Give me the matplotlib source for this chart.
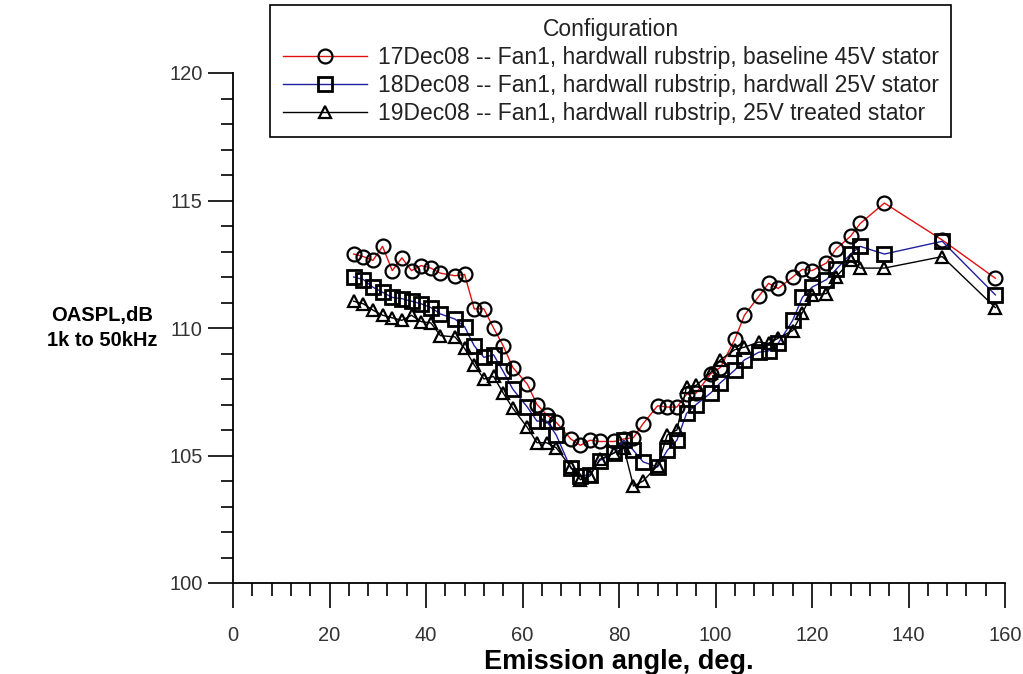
import matplotlib
matplotlib.use("Agg")
import matplotlib.pyplot as plt
from matplotlib.ticker import MultipleLocator

plt.rcParams['font.family'] = ['Liberation Sans', 'DejaVu Sans']

# emission angles (deg) shared by the three configurations
angles = [25, 27, 29, 31, 33, 35, 37, 39, 41, 43, 46, 48, 50, 52, 54, 56, 58,
          61, 63, 65, 67, 70, 72, 74, 76, 79, 81, 83, 85, 88, 90, 92,
          94, 96, 99, 101, 104, 106, 109, 111, 113, 116, 118, 120, 123, 125, 128, 130,
          135, 147, 158]

# OASPL, dB (1k to 50kHz)
baseline_45v = [112.9, 112.8, 112.65, 113.2, 112.25, 112.75, 112.25, 112.45, 112.35, 112.15,
                112.05, 112.1, 110.75, 110.75, 110.0, 109.3, 108.45,
                107.8, 107.0, 106.6, 106.3, 105.65, 105.4, 105.6, 105.55, 105.55, 105.65, 105.7,
                106.25, 106.95, 106.9, 106.9,
                107.4, 107.45, 108.2, 108.45, 109.55, 110.5, 111.25, 111.75, 111.55, 112.0,
                112.3, 112.25, 112.55, 113.1, 113.6, 114.1,
                114.9, 113.45, 111.95]
hardwall_25v = [112.0, 111.9, 111.6, 111.4, 111.2, 111.15, 111.05, 110.95, 110.8, 110.55,
                110.35, 110.05, 109.3, 108.85, 108.95, 108.3, 107.6,
                106.9, 106.35, 106.35, 105.8, 104.5, 104.2, 104.25, 104.8, 105.1, 105.6, 105.2,
                104.75, 104.55, 105.2, 105.6,
                106.65, 107.0, 107.45, 107.85, 108.35, 108.75, 109.05, 109.1, 109.4, 110.3,
                111.2, 111.6, 111.9, 112.3, 112.9, 113.2,
                112.9, 113.4, 111.3]
treated_25v = [111.05, 110.95, 110.7, 110.5, 110.4, 110.3, 110.5, 110.25, 110.2, 109.7,
               109.65, 109.2, 108.55, 108.0, 108.1, 107.45, 106.85,
               106.1, 105.5, 105.5, 105.3, 104.55, 104.05, 104.2, 104.85, 105.1, 105.3, 103.8,
               104.0, 104.6, 105.8, 106.0,
               107.7, 107.75, 108.25, 108.75, 109.15, 109.25, 109.45, 109.4, 109.6, 109.9,
               110.6, 111.3, 111.35, 112.0, 112.65, 112.35,
               112.35, 112.8, 110.8]

labels = ['17Dec08 -- Fan1, hardwall rubstrip, baseline 45V stator',
          '18Dec08 -- Fan1, hardwall rubstrip, hardwall 25V stator',
          '19Dec08 -- Fan1, hardwall rubstrip, 25V treated stator']

fig = plt.figure(figsize=(10.23, 6.74), dpi=100)
ax = fig.add_axes([233 / 1023, 1 - 583 / 674, (1005 - 233) / 1023, (583 - 73) / 674])

ax.plot(angles, baseline_45v, color='#e01010', lw=1.0, marker='o', ms=10,
        mfc='none', mec='black', mew=1.6, label=labels[0])
ax.plot(angles, hardwall_25v, color='#2020a0', lw=1.0, marker='s', ms=10,
        mfc='none', mec='black', mew=2.0, label=labels[1])
ax.plot(angles, treated_25v, color='black', lw=1.0, marker='^', ms=8,
        mfc='none', mec='black', mew=1.6, label=labels[2])

ax.set_xlim(0, 160)
ax.set_ylim(100, 120)
ax.xaxis.set_major_locator(MultipleLocator(20))
ax.xaxis.set_minor_locator(MultipleLocator(4))
ax.yaxis.set_major_locator(MultipleLocator(5))
ax.yaxis.set_minor_locator(MultipleLocator(1))

for s in ['top', 'right']:
    ax.spines[s].set_visible(False)
for s in ['left', 'bottom']:
    ax.spines[s].set_linewidth(1.3)

ax.tick_params(which='major', direction='out', length=18, width=1.2,
               labelsize=14.5, labelcolor='#333333')
ax.tick_params(which='minor', direction='out', length=9, width=1.2)
ax.tick_params(axis='x', which='major', pad=13)
ax.tick_params(axis='y', which='major', pad=4)

ax.set_xlabel('Emission angle, deg.', fontsize=19.5, fontweight='bold', labelpad=3)
ax.set_ylabel('OASPL,dB\n1k to 50kHz', fontsize=14.5, fontweight='bold',
              rotation=0, ha='center', va='center', linespacing=1.45)
ax.yaxis.set_label_coords(-0.17, 0.5)

leg = ax.legend(loc='upper left', bbox_to_anchor=(270 / 1023, 1 - 5 / 674),
                bbox_transform=fig.transFigure, borderaxespad=0,
                title='Configuration', fontsize=16.5, title_fontsize=16.5,
                handlelength=3.7, handletextpad=0.45, labelspacing=0.22,
                borderpad=0.55, fancybox=False, framealpha=1, edgecolor='black')
leg.get_frame().set_linewidth(1.2)
for t in leg.get_texts():
    t.set_color('#222222')
leg.get_title().set_color('#222222')

plt.savefig('out.png', dpi=100)
